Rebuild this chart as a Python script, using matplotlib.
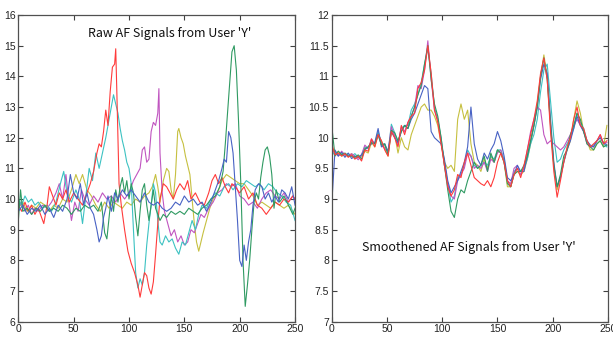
import matplotlib
matplotlib.use("Agg")
import matplotlib.pyplot as plt
import numpy as np

# ---------------- Left panel: raw signals (irregular sample points) ----------------
red_lx = [0,3,6,9,12,15,18,21,23,26,28,31,34,37,40,43,46,50,54,58,62,65,68,71,73,75,77,79,81,83,85,87,88,89,91,93,96,99,102,105,108,110,112,114,116,118,120,122,124,126,128,131,134,137,140,143,146,150,153,156,160,164,168,172,175,178,181,184,187,190,193,196,200,204,208,212,216,220,224,228,232,236,240,244,248,250]
red_ly = [9.8,9.6,9.9,9.6,9.8,9.5,9.7,9.4,9.2,9.8,10.4,10.1,9.8,10.2,10.0,10.3,9.9,10.2,10.0,9.8,10.2,10.5,10.9,11.5,11.8,11.7,12.2,12.9,12.4,13.5,14.3,14.4,14.9,13.5,10.5,9.8,9.0,8.3,7.9,7.6,7.2,6.8,7.2,7.6,7.5,7.1,6.9,7.3,8.2,9.2,10.0,10.5,10.4,10.2,10.0,10.3,10.5,10.3,10.6,10.0,10.2,9.9,9.8,10.2,10.6,10.8,10.5,10.7,10.4,10.2,10.5,10.4,10.2,10.4,10.0,10.2,9.8,9.7,9.5,9.7,9.9,9.8,10.0,9.9,10.1,10.0]

cyan_lx = [0,3,6,9,12,15,18,22,26,30,34,38,41,44,48,52,55,58,61,64,67,70,73,76,79,82,84,86,88,90,92,94,96,98,100,102,104,106,108,110,112,114,116,118,120,122,124,126,128,130,133,136,139,142,145,148,151,154,157,160,163,166,170,174,178,182,186,190,194,198,202,206,210,214,218,222,226,230,234,238,242,246,250]
cyan_ly = [10.0,9.8,10.1,9.9,10.0,9.8,9.9,9.7,9.8,9.6,9.9,10.5,10.9,10.2,9.9,10.3,10.0,9.2,10.1,11.0,10.6,11.5,11.0,11.5,12.0,12.6,13.0,13.4,13.1,12.8,12.3,11.9,11.6,11.2,11.0,10.5,9.0,7.6,7.1,7.4,7.2,7.6,8.5,9.2,9.8,10.5,10.2,9.3,8.6,8.5,8.8,8.6,8.7,8.4,8.2,8.6,8.5,8.9,9.3,9.0,9.5,9.8,9.7,10.0,10.2,10.1,10.4,10.5,10.3,10.5,10.4,10.6,10.5,10.4,10.5,10.3,10.5,10.4,10.2,10.1,9.9,9.8,9.3]

magenta_lx = [0,3,6,9,12,15,18,22,26,30,34,37,40,43,46,48,51,54,57,60,64,68,72,76,80,84,88,92,96,100,104,107,110,112,114,116,118,120,122,124,126,127,128,130,132,135,138,141,144,147,150,153,156,159,162,165,168,172,176,180,184,188,192,196,200,204,208,212,216,220,224,228,232,236,240,244,248,250]
magenta_ly = [9.7,9.9,9.6,9.8,9.5,9.7,9.6,9.8,9.7,9.9,10.2,10.5,10.0,10.8,9.8,9.3,9.9,9.6,10.3,10.0,9.8,10.1,9.9,10.2,10.0,10.1,9.9,10.2,10.0,10.2,10.6,10.8,11.0,11.6,11.7,11.2,11.3,12.2,12.5,12.4,12.8,13.6,11.5,10.2,9.6,9.2,8.8,9.0,8.6,8.8,8.5,8.6,9.0,8.9,9.2,9.5,9.4,9.7,9.9,10.2,10.3,10.5,10.4,10.5,10.1,10.0,9.8,9.9,9.7,10.0,10.2,10.3,10.1,10.0,10.2,9.9,10.1,10.0]

yellow_lx = [0,4,8,12,16,20,24,28,32,36,40,44,48,52,55,58,62,66,70,74,78,82,86,90,94,98,102,106,110,114,118,121,124,126,128,131,134,136,138,140,142,144,145,147,149,151,153,155,157,159,161,163,165,167,170,173,176,180,184,188,192,196,200,204,208,212,216,220,224,228,232,236,240,244,248,250]
yellow_ly = [9.7,9.9,9.6,9.8,9.7,9.9,9.8,9.6,9.8,9.7,10.0,9.9,10.3,10.8,10.5,10.8,10.3,10.1,9.8,9.6,9.9,9.7,9.9,9.8,9.7,9.9,9.8,10.0,9.9,10.1,10.2,10.4,10.8,10.4,9.9,10.6,11.0,10.9,10.3,10.0,10.8,12.2,12.3,12.0,11.8,11.4,11.1,10.8,10.0,9.2,8.6,8.3,8.6,8.9,9.3,9.7,10.0,10.2,10.6,10.8,10.7,10.6,10.5,10.5,10.3,10.1,9.8,9.9,9.8,9.7,9.9,9.8,9.7,9.8,9.6,9.5]

blue_lx = [0,4,8,12,16,20,24,28,32,36,40,44,47,50,53,56,59,62,65,68,71,73,75,77,79,81,84,87,90,94,98,102,106,110,114,118,122,126,130,134,138,142,146,150,154,158,162,166,170,174,178,181,184,186,188,190,192,194,196,198,200,202,204,206,208,210,212,214,217,220,223,226,229,232,235,238,241,244,247,250]
blue_ly = [9.6,9.8,9.5,9.7,9.6,9.8,9.5,9.7,9.4,9.8,9.6,10.0,10.8,10.2,10.0,10.5,9.8,10.2,9.7,9.5,9.0,8.6,8.8,9.4,9.7,10.1,9.6,10.2,10.0,10.3,10.1,10.3,10.1,9.9,10.2,9.9,9.8,9.9,9.7,9.6,9.7,9.9,9.8,10.1,9.9,10.0,9.8,9.9,9.6,9.9,10.3,10.6,11.0,11.3,11.2,12.2,12.0,11.5,10.4,9.3,8.0,7.8,8.5,8.0,8.6,9.0,9.8,10.3,10.5,10.4,10.0,10.2,9.9,10.1,9.9,10.3,10.2,10.0,10.4,9.8]

green_lx = [0,2,4,8,12,16,20,24,28,32,36,40,44,48,52,56,60,64,68,72,75,78,80,82,84,86,88,90,92,94,96,98,100,102,104,106,108,110,112,114,116,118,120,122,124,126,128,131,134,138,142,146,150,154,158,162,166,170,174,178,182,185,187,189,191,193,195,197,199,201,203,205,207,209,211,213,215,217,219,221,223,225,227,229,231,233,236,240,244,248,250]
green_ly = [9.3,10.3,9.6,9.7,9.5,9.7,9.6,9.8,9.6,9.7,9.6,9.8,9.7,9.5,9.7,9.6,9.8,9.7,9.8,9.6,9.9,8.9,8.7,9.4,10.1,9.6,10.3,9.9,10.4,10.7,10.2,10.6,10.0,10.5,10.2,9.4,8.8,9.6,10.3,10.5,9.8,9.3,9.8,10.3,9.7,9.5,9.3,9.5,9.4,9.6,9.5,9.6,9.5,9.7,9.6,9.5,9.7,9.8,10.0,10.1,10.4,10.9,11.8,12.8,13.8,14.8,15.0,14.2,12.5,10.5,8.0,6.5,7.2,8.0,9.0,9.9,10.2,10.0,10.7,11.2,11.6,11.7,11.4,10.8,9.7,10.3,9.9,10.1,9.8,9.5,9.7]

# ---------------- Right panel: smoothed signals (shared sample grid) ----------------
rx = list(range(0, 250, 3))

red_r = [9.90,9.72,9.75,9.70,9.74,9.68,9.72,9.65,9.70,9.62,
         9.80,9.78,9.98,9.85,10.05,9.95,9.80,9.70,10.10,10.00,
         9.85,10.20,10.05,10.25,10.35,10.40,10.80,10.90,11.10,11.50,
         11.05,10.45,10.25,9.90,9.55,9.20,9.05,9.15,9.40,9.35,
         9.60,9.75,9.55,9.35,9.30,9.25,9.22,9.30,9.20,9.35,
         9.60,9.75,9.60,9.30,9.20,9.40,9.50,9.35,9.55,9.80,
         10.05,10.30,10.60,11.05,11.30,10.95,10.10,9.45,9.03,9.30,
         9.60,9.85,10.00,10.30,10.50,10.20,10.15,9.95,9.85,9.90,
         9.95,10.05,9.90,9.95]

green_r = [10.20,9.70,9.78,9.72,9.75,9.70,9.70,9.68,9.72,9.65,
           9.82,9.85,9.92,9.90,10.05,9.88,9.90,9.72,10.12,10.08,
           9.95,10.10,10.20,10.15,10.35,10.50,10.70,10.85,11.20,11.50,
           10.95,10.55,10.35,10.00,9.55,9.15,8.80,8.70,9.00,9.15,
           9.10,9.30,9.45,9.60,9.50,9.55,9.70,9.45,9.75,9.60,
           9.80,9.75,9.60,9.25,9.20,9.40,9.45,9.45,9.55,9.70,
           9.95,10.20,10.50,11.00,11.30,10.95,10.20,9.55,9.20,9.40,
           9.70,9.80,10.05,10.20,10.40,10.30,10.10,9.90,9.85,9.80,
           9.90,9.95,9.85,9.88]

blue_r = [8.90,9.80,9.70,9.76,9.68,9.75,9.66,9.70,9.68,9.72,
          9.80,9.85,9.90,9.92,10.15,9.85,9.90,9.78,10.10,10.00,
          9.92,10.10,10.20,10.15,10.30,10.40,10.55,10.70,10.85,10.80,
          10.10,10.00,9.95,9.90,9.65,9.30,9.10,9.20,9.30,9.45,
          9.60,9.85,10.50,9.90,9.65,9.55,9.75,9.65,9.80,9.90,
          10.10,9.95,9.70,9.35,9.30,9.40,9.55,9.45,9.45,9.70,
          9.95,10.20,10.50,10.95,11.20,11.05,10.30,9.60,9.20,9.35,
          9.60,9.80,9.95,10.15,10.35,10.20,10.10,9.95,9.88,9.85,
          9.95,10.00,9.92,9.88]

yellow_r = [9.85,9.72,9.78,9.70,9.72,9.70,9.74,9.66,9.68,9.70,
            9.78,9.75,9.92,9.85,10.05,9.95,9.82,9.70,10.12,10.05,
            9.75,10.00,9.85,9.80,10.05,10.20,10.35,10.50,10.55,10.45,
            10.45,10.35,10.20,9.90,9.60,9.50,9.55,9.45,10.30,10.55,
            10.30,10.45,9.90,9.60,9.55,9.45,9.65,9.50,9.70,9.60,
            9.80,9.75,9.60,9.20,9.20,9.40,9.45,9.40,9.45,9.65,
            9.90,10.20,10.55,11.00,11.35,11.00,10.25,9.55,9.15,9.35,
            9.60,9.80,9.95,10.30,10.60,10.40,10.10,9.95,9.80,9.80,
            9.90,9.95,9.85,10.20]

magenta_r = [9.80,9.75,9.70,9.78,9.72,9.70,9.74,9.70,9.64,9.72,
             9.88,9.82,9.98,9.90,10.05,9.88,9.82,9.78,10.18,10.02,
             9.88,10.18,10.10,10.25,10.35,10.50,10.85,10.80,11.10,11.58,
             10.95,10.45,10.30,9.95,9.55,9.25,9.05,9.00,9.30,9.40,
             9.50,9.75,9.70,9.50,9.55,9.50,9.60,9.45,9.65,9.60,
             9.75,9.80,9.60,9.30,9.25,9.50,9.55,9.40,9.50,9.80,
             10.10,10.30,10.50,10.45,10.05,9.90,9.95,9.90,9.85,9.80,
             9.85,9.95,10.05,10.20,10.30,10.20,10.10,9.90,9.85,9.85,
             9.95,10.05,9.90,9.92]

cyan_r = [9.70,9.78,9.72,9.76,9.72,9.74,9.70,9.74,9.68,9.72,
          9.85,9.82,9.95,9.90,10.10,9.92,9.88,9.75,10.22,10.08,
          9.92,10.15,10.20,10.20,10.45,10.55,10.70,10.90,11.20,11.45,
          11.05,10.50,10.30,10.00,9.60,9.25,8.95,9.05,9.35,9.40,
          9.55,9.80,9.70,9.55,9.50,9.55,9.60,9.55,9.70,9.65,
          9.80,9.80,9.65,9.30,9.20,9.45,9.50,9.45,9.50,9.65,
          9.90,10.05,10.30,10.75,11.10,11.20,10.60,10.00,9.60,9.65,
          9.80,9.90,10.00,10.15,10.40,10.25,10.15,9.95,9.85,9.88,
          9.95,10.00,9.90,9.85]

x_ticks = [0, 50, 100, 150, 200, 250]
left_yticks = list(range(6, 17))
right_yticks = [7, 7.5, 8, 8.5, 9, 9.5, 10, 10.5, 11, 11.5, 12]
right_ylabels = ["7", "7.5", "8", "8.5", "9", "9.5", "10", "10.5", "11", "11.5", "12"]

C_BLUE = "#4862c4"
C_GREEN = "#2f9a62"
C_RED = "#ff3b3b"
C_CYAN = "#3cc2c2"
C_MAG = "#c055c0"
C_YEL = "#c6c040"

fig = plt.figure(figsize=(6.13, 3.40), dpi=100)
axL = fig.add_axes([0.0299, 0.0538, 0.4514, 0.9020])
axR = fig.add_axes([0.5411, 0.0538, 0.4507, 0.9020])

lw = 0.8
axL.plot(yellow_lx, yellow_ly, color=C_YEL, lw=lw)
axL.plot(magenta_lx, magenta_ly, color=C_MAG, lw=lw)
axL.plot(cyan_lx, cyan_ly, color=C_CYAN, lw=lw)
axL.plot(red_lx, red_ly, color=C_RED, lw=lw)
axL.plot(green_lx, green_ly, color=C_GREEN, lw=lw)
axL.plot(blue_lx, blue_ly, color=C_BLUE, lw=lw)

axR.plot(rx, yellow_r, color=C_YEL, lw=lw)
axR.plot(rx, cyan_r, color=C_CYAN, lw=lw)
axR.plot(rx, magenta_r, color=C_MAG, lw=lw)
axR.plot(rx, blue_r, color=C_BLUE, lw=lw)
axR.plot(rx, green_r, color=C_GREEN, lw=lw)
axR.plot(rx, red_r, color=C_RED, lw=lw)

axL.set_ylim(6, 16)
axL.set_yticks(left_yticks)
axR.set_ylim(7, 12)
axR.set_yticks(right_yticks)
axR.set_yticklabels(right_ylabels)

for ax in (axL, axR):
    ax.set_xlim(0, 250)
    ax.set_xticks(x_ticks)
    ax.tick_params(direction="in", top=True, right=True, length=3.5,
                   width=0.8, color="#404040", labelsize=7.5, pad=2,
                   labelcolor="#222222")
    for s in ax.spines.values():
        s.set_color("#505050")
        s.set_linewidth(0.9)
    for lab in ax.get_xticklabels() + ax.get_yticklabels():
        lab.set_fontfamily("Liberation Sans")

axL.text(0.548, 0.941, "Raw AF Signals from User 'Y'", transform=axL.transAxes,
         ha="center", va="center", fontsize=9, color="#111111",
         family=["Noto Sans CJK KR", "DejaVu Sans"])
axR.text(0.497, 0.241, "Smoothened AF Signals from User 'Y'", transform=axR.transAxes,
         ha="center", va="center", fontsize=9, color="#111111",
         family=["Noto Sans CJK KR", "DejaVu Sans"])

fig.savefig("out.png", dpi=100)
